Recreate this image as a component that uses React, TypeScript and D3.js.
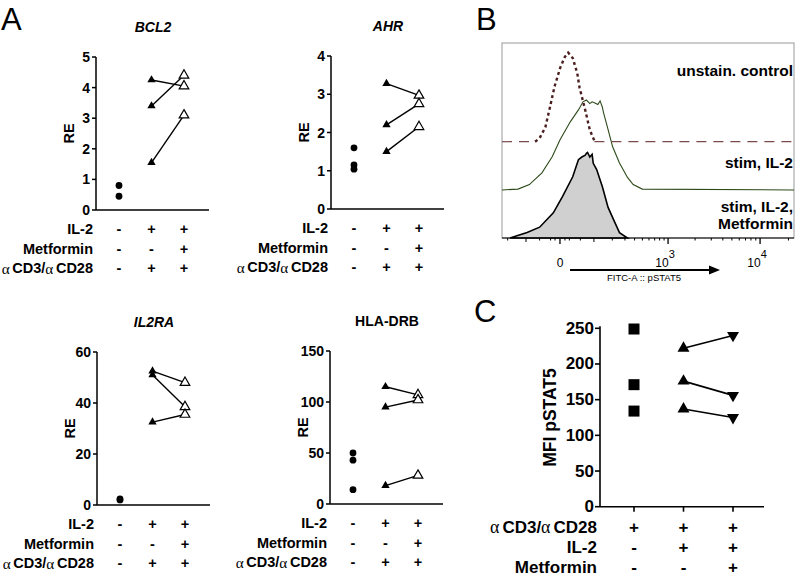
import React from "react";
import * as d3 from "d3";

const FONT = "'Liberation Sans', Arial, sans-serif";

// ---- panel A: relative expression (RE) per gene ----
const genes = ["BCL2", "AHR", "IL2RA", "HLA-DRB"];
const geneItalic = [true, true, true, false];
const geneMax = [5, 4, 60, 150];
const geneTicks = [[0, 1, 2, 3, 4, 5], [0, 1, 2, 3, 4], [0, 20, 40, 60], [0, 50, 100, 150]];
const unstimRE = [[0.8, 0.45], [1.6, 1.15, 1.04], [2.4, 2.0], [50, 43, 14]];
const il2RE = [[4.25, 3.4, 1.55], [3.28, 2.2, 1.5], [52.5, 51, 32.5], [115, 95, 18]];
const il2MetRE = [[4.05, 4.4, 3.1], [2.97, 2.75, 2.15], [48, 38.5, 35.5], [107, 102, 28]];
const rowsA = ["IL-2", "Metformin", "αCD3/αCD28"];
const signsA = [["-", "+", "+"], ["-", "-", "+"], ["-", "+", "+"]];

// ---- panel B: pSTAT5 histograms, x in display channels (0-256), y in % of mode ----
const unstainCh = [29, 33, 38, 42, 46, 51, 55, 58, 62, 66, 68, 73, 77, 81];
const unstainPct = [0, 4, 16, 38, 61, 82, 94, 99, 93, 76, 60, 35, 13, 1];
const il2Ch = [0, 14, 24, 35, 44, 51, 60, 67, 71, 74, 77, 79, 81, 84, 86, 88, 89, 93, 97, 103, 110, 115, 123, 256];
const il2Pct = [0, 1, 6, 19, 37, 56, 76, 89, 98, 100, 96, 98, 97, 95, 99, 92, 86, 67, 48, 30, 14, 6, 1, 0];
const metCh = [7, 22, 33, 45, 53, 62, 67, 70, 73, 74, 75, 77, 79, 80, 83, 88, 93, 99, 103, 110];
const metPct = [0, 6, 12, 28, 46, 68, 87, 90, 92, 94, 95, 90, 93, 83, 76, 57, 34, 17, 6, 0];
const fitcMinor = [-200, -100, -50, -20, -10, 10, 20, 50, 100, 200, 300, 400, 500, 600, 700, 800, 900,
  2000, 3000, 4000, 5000, 6000, 7000, 8000, 9000, 20000];
const fitcMajor = [0, 1000, 10000];
const fitcLabels = [["0", ""], ["10", "3"], ["10", "4"]];

// ---- panel C: MFI pSTAT5 ----
const mfiUnstim = [249, 171, 134];
const mfiIl2 = [222, 176, 137];
const mfiIl2Met = [240, 156, 125];
const mfiTicks = [0, 50, 100, 150, 200, 250];
const rowsC = ["αCD3/αCD28", "IL-2", "Metformin"];
const signsC = [["+", "+", "+"], ["-", "+", "+"], ["-", "-", "+"]];

function CondLabel({ text, x, y, size }: any) {
  const parts = text.split(/(α)/).filter((p: string) => p.length);
  return (
    <text x={x} y={y} textAnchor="end" dominantBaseline="central" fontSize={size} fontFamily={FONT} fontWeight="bold">
      {parts.map((p: string, i: number) =>
        p === "α"
          ? <tspan key={i} fontFamily="'Liberation Serif', serif" fontWeight="normal" fontSize={size * 1.05}>α</tspan>
          : <tspan key={i} dx={i > 0 ? size * 0.18 : 0}>{p}</tspan>
      )}
    </text>
  );
}

const triUp = (s: number) => d3.symbol().type(d3.symbolTriangle).size(s)() as string;

function GenePanel({ i, ox, oy }: any) {
  const h = 153, w = 113;
  const y = d3.scaleLinear().domain([0, geneMax[i]]).range([oy + h, oy]);
  const x = d3.scalePoint<number>().domain([0, 1, 2]).range([ox + 23, ox + 88]);
  return (
    <g fontFamily={FONT}>
      <text x={ox + 57} y={oy - 25} textAnchor="middle" fontSize={14} fontWeight="bold"
        fontStyle={geneItalic[i] ? "italic" : "normal"}>{genes[i]}</text>
      <text transform={`translate(${ox - 27},${oy + h / 2}) rotate(-90)`} textAnchor="middle"
        dominantBaseline="central" fontSize={14.5} fontWeight="bold">RE</text>
      <line x1={ox} x2={ox} y1={oy} y2={oy + h} stroke="#000" strokeWidth={1.5} />
      <line x1={ox} x2={ox + w} y1={oy + h} y2={oy + h} stroke="#000" strokeWidth={1.5} />
      {geneTicks[i].map(t => (
        <g key={t}>
          <line x1={ox - 4} x2={ox} y1={y(t)} y2={y(t)} stroke="#000" strokeWidth={1.5} />
          <text x={ox - 6} y={y(t)} textAnchor="end" dominantBaseline="central" fontSize={14} fontWeight="bold">{t}</text>
        </g>
      ))}
      {il2RE[i].map((v, k) => (
        <line key={k} x1={x(1)} y1={y(v)} x2={x(2)} y2={y(il2MetRE[i][k])} stroke="#000" strokeWidth={1.4} />
      ))}
      {unstimRE[i].map((v, k) => <circle key={k} cx={x(0)} cy={y(v)} r={3.4} fill="#000" />)}
      {il2RE[i].map((v, k) => <path key={k} d={triUp(30)} transform={`translate(${x(1)},${y(v)})`} fill="#000" />)}
      {il2MetRE[i].map((v, k) => (
        <path key={k} d={triUp(40)} transform={`translate(${x(2)},${y(v)})`} fill="#fff" stroke="#000" strokeWidth={1.2} />
      ))}
      {rowsA.map((r, ri) => (
        <g key={r}>
          <CondLabel text={r} x={ox - 3} y={oy + h + 19 + ri * 19.5} size={14.5} />
          {signsA[ri].map((s, ci) => (
            <text key={ci} x={x(ci)} y={oy + h + 19 + ri * 19.5} textAnchor="middle" dominantBaseline="central"
              fontSize={14.5} fontWeight="bold">{s}</text>
          ))}
        </g>
      ))}
    </g>
  );
}

function HistPanel() {
  const left = 502, right = 794, top = 43, bottom = 238;
  const xCh = d3.scaleLinear().domain([0, 256]).range([left, right]);
  const xFl = d3.scaleSymlog().constant(78).domain([-241, 22900]).range([left, right]);
  const layer = (base: number) => d3.scaleLinear().domain([0, 100]).range([base, base - 90]);
  const yU = layer(141.7), yI = layer(190), yM = layer(238);
  const lineU = d3.line<number>().x((_, k) => xCh(unstainCh[k])).y(d => yU(d));
  const lineI = d3.line<number>().x((_, k) => xCh(il2Ch[k])).y(d => yI(d));
  const areaM = d3.area<number>().x((_, k) => xCh(metCh[k])).y0(yM(0)).y1(d => yM(d));
  return (
    <g fontFamily={FONT}>
      <rect x={left} y={top} width={right - left} height={bottom - top} fill="#fff" stroke="#999" strokeWidth={1} />
      <path d={areaM(metPct) as string} fill="#d0d0d0" stroke="#000" strokeWidth={1.6} />
      <path d={lineI(il2Pct) as string} fill="none" stroke="#2d4a1a" strokeWidth={1.1} />
      <line x1={left} x2={xCh(unstainCh[0])} y1={yU(0)} y2={yU(0)} stroke="#7a4a4a" strokeWidth={1.2} strokeDasharray="10,7" />
      <line x1={xCh(unstainCh[unstainCh.length - 1])} x2={right} y1={yU(0)} y2={yU(0)} stroke="#7a4a4a" strokeWidth={1.2} strokeDasharray="10,7" />
      <path d={lineU(unstainPct) as string} fill="none" stroke="#4b1f1f" strokeWidth={2.4} strokeDasharray="3,3" />
      <line x1={left} x2={right} y1={bottom} y2={bottom} stroke="#000" strokeWidth={1.2} />
      {fitcMinor.map(t => (
        <line key={t} x1={xFl(t)} x2={xFl(t)} y1={bottom} y2={bottom + (Math.abs(t) === 100 ? 4 : 2.5)} stroke="#000" strokeWidth={1} />
      ))}
      {fitcMajor.map((t, k) => (
        <g key={t}>
          <line x1={xFl(t)} x2={xFl(t)} y1={bottom} y2={bottom + 6} stroke="#000" strokeWidth={1.3} />
          <text x={xFl(t) + (k ? -3 : 0)} y={267} textAnchor="middle" fontSize={12}>
            {fitcLabels[k][0]}
            {fitcLabels[k][1] && <tspan dy={-9} fontSize={11}>{fitcLabels[k][1]}</tspan>}
          </text>
        </g>
      ))}
      <line x1={570} x2={712} y1={270} y2={270} stroke="#000" strokeWidth={2} />
      <path d="M720,270 L709,265.5 L709,274.5 Z" fill="#000" />
      <text x={644} y={281} textAnchor="middle" fontSize={9.5}>FITC-A :: pSTAT5</text>
      <g fontSize={15.5} fontWeight="bold" textAnchor="end">
        <text x={793} y={76}>unstain. control</text>
        <text x={793} y={168}>stim, IL-2</text>
        <text x={793} y={212}>stim, IL-2,</text>
        <text x={793} y={229}>Metformin</text>
      </g>
    </g>
  );
}

function MfiPanel() {
  const ox = 600, oy = 328.3, h = 178.4, w = 164;
  const y = d3.scaleLinear().domain([0, 250]).range([oy + h, oy]);
  const x = d3.scalePoint<number>().domain([0, 1, 2]).range([634, 733]);
  return (
    <g fontFamily={FONT}>
      <text transform={`translate(550,${oy + h / 2}) rotate(-90)`} textAnchor="middle" dominantBaseline="central"
        fontSize={17.5} fontWeight="bold">MFI pSTAT5</text>
      <line x1={ox} x2={ox} y1={oy - 2} y2={oy + h} stroke="#000" strokeWidth={1.6} />
      <line x1={ox} x2={ox + w} y1={oy + h} y2={oy + h} stroke="#000" strokeWidth={1.6} />
      {mfiTicks.map(t => (
        <g key={t}>
          <line x1={ox - 5} x2={ox} y1={y(t)} y2={y(t)} stroke="#000" strokeWidth={1.6} />
          <text x={ox - 6} y={y(t)} textAnchor="end" dominantBaseline="central" fontSize={17} fontWeight="bold">{t}</text>
        </g>
      ))}
      {[0, 1, 2].map(c => (
        <line key={c} x1={x(c)} x2={x(c)} y1={oy + h} y2={oy + h + 5} stroke="#000" strokeWidth={1.6} />
      ))}
      {mfiIl2.map((v, k) => (
        <line key={k} x1={x(1)} y1={y(v)} x2={x(2)} y2={y(mfiIl2Met[k])} stroke="#000" strokeWidth={1.6} />
      ))}
      {mfiUnstim.map((v, k) => <rect key={k} x={(x(0) as number) - 5.5} y={y(v) - 5.5} width={11} height={11} fill="#000" />)}
      {mfiIl2.map((v, k) => <path key={k} d={triUp(62)} transform={`translate(${x(1)},${y(v)})`} fill="#000" />)}
      {mfiIl2Met.map((v, k) => <path key={k} d={triUp(62)} transform={`translate(${x(2)},${y(v)}) rotate(180)`} fill="#000" />)}
      {rowsC.map((r, ri) => (
        <g key={r}>
          <CondLabel text={r} x={597} y={oy + h + 20.5 + ri * 20} size={17} />
          {signsC[ri].map((s, ci) => (
            <text key={ci} x={x(ci)} y={oy + h + 20.5 + ri * 20} textAnchor="middle" dominantBaseline="central"
              fontSize={17} fontWeight="bold">{s}</text>
          ))}
        </g>
      ))}
    </g>
  );
}

export default function App() {
  const origins = [[96, 57], [331, 56], [97, 352], [330, 351]];
  return (
    <svg width={800} height={576} style={{ position: "absolute", left: 0, top: 0, background: "#fff" }}>
      <rect width={800} height={576} fill="#fff" />
      <g fontFamily={FONT} fontSize={31}>
        <text x={1} y={30}>A</text>
        <text x={476} y={30}>B</text>
        <text x={474} y={322}>C</text>
      </g>
      {origins.map(([ox, oy], i) => <GenePanel key={i} i={i} ox={ox} oy={oy} />)}
      <HistPanel />
      <MfiPanel />
    </svg>
  );
}
